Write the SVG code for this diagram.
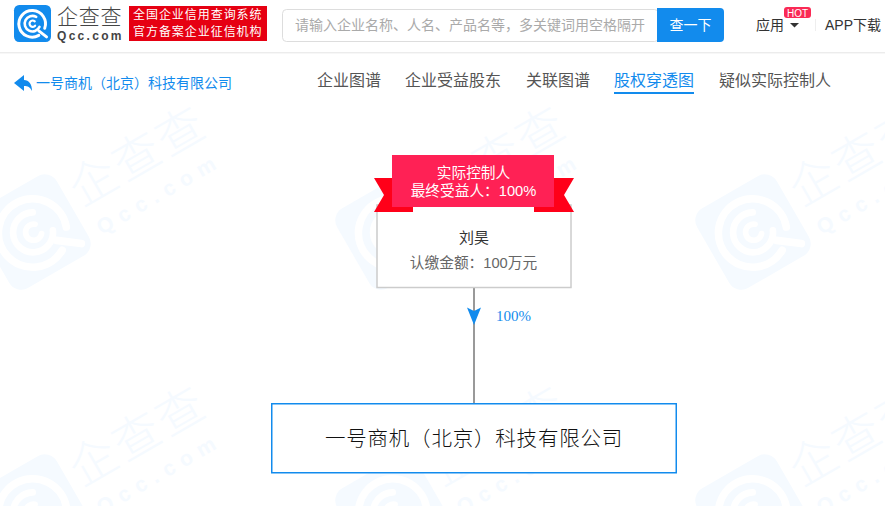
<svg xmlns="http://www.w3.org/2000/svg" width="885" height="506" viewBox="0 0 885 506">
<style>
text{font-family:"Liberation Sans","Noto Sans CJK SC",sans-serif}
.c{text-anchor:middle}
.tab{font-size:16px;fill:#555}
.top{font-size:14px;fill:#333}
.ring{fill:none;stroke:#fff;stroke-linecap:round}
.wm{fill:#f5faff}
.wmt{font-family:"Noto Sans CJK SC","Liberation Sans",sans-serif;font-weight:300;fill:#f5faff}
</style>
<defs>
<g id="mark">
<path class="ring" stroke-width="8" d="M33 13A36 36 0 1 0 17 32"/>
<path class="ring" stroke-width="8" d="M17 20L38 36"/>
<path class="ring" stroke-width="7" d="M10 -18A21 21 0 1 0 19 9"/>
<path class="ring" stroke-width="6" d="M6 -6A8.500 8.500 0 1 0 7 6"/>
</g>
<g id="wm" transform="rotate(-30)">
<rect class="wm" x="-46" y="-46" width="92" height="92" rx="14"/>
<use href="#mark" transform="scale(.95)"/>
<text class="wmt" x="54" y="3" font-size="47" letter-spacing="3">企查查</text>
<text class="wmt" x="58" y="37" font-size="21" letter-spacing="7.500" style="font-family:'Liberation Sans',sans-serif;font-weight:700">Qcc.com</text>
</g>
</defs>
<rect width="885" height="506" fill="#fff"/>
<g id="watermarks">
<use href="#wm" transform="translate(33 232)"/>
<use href="#wm" transform="translate(393 232)"/>
<use href="#wm" transform="translate(753 232)"/>
<use href="#wm" transform="translate(33 512)"/>
<use href="#wm" transform="translate(393 512)"/>
<use href="#wm" transform="translate(753 512)"/>
</g>
<g id="header">
<rect x="0" y="0" width="885" height="52" fill="#fff"/>
<rect x="0" y="52" width="885" height="1" fill="#ececec"/>
<rect x="0" y="53" width="885" height="1" fill="#f7f7f7"/>
<g transform="translate(32.500 23.500) scale(.37)">
<rect x="-50" y="-50" width="100" height="100" rx="14" fill="#128bed"/>
<use href="#mark"/>
</g>
<text x="57" y="24" font-size="21" letter-spacing=".7" fill="#444" style="font-family:'Noto Sans CJK SC',sans-serif;font-weight:300">企查查</text>
<text x="57" y="40" font-size="12" font-weight="700" letter-spacing="2.300" fill="#444">Qcc.com</text>
<rect x="129" y="6" width="138" height="35" fill="#e60012"/>
<text x="133" y="19" font-size="12" letter-spacing=".95" fill="#fff">全国企业信用查询系统</text>
<text x="133" y="36" font-size="12" letter-spacing=".95" fill="#fff">官方备案企业征信机构</text>
<rect x="282.500" y="9.500" width="376" height="32" rx="4" fill="#fff" stroke="#ddd"/>
<text x="295" y="30" font-size="14" fill="#aaa">请输入企业名称、人名、产品名等，多关键词用空格隔开</text>
<path d="M657 8H720a4 4 0 0 1 4 4V38a4 4 0 0 1-4 4H657Z" fill="#128bed"/>
<text x="690.500" y="30" font-size="14" class="c" fill="#fff">查一下</text>
<text x="756" y="30" class="top">应用</text>
<path d="M790 23H799L794.500 27.500Z" fill="#333"/>
<path d="M787 7H808a3 3 0 0 1 3 3V15a3 3 0 0 1-3 3H787a3 3 0 0 1-3-3V10a3 3 0 0 1 3-3Z" fill="#fa2a55"/>
<text x="797.500" y="16.500" font-size="10" class="c" fill="#fff">HOT</text>
<rect x="815" y="19" width="1" height="12" fill="#eee"/>
<text x="825" y="30" class="top">APP下载</text>
</g>
<g id="subnav">
<path d="M14 83L24 75V80C29 80 32 84 32 91C30 87 28 86 24 86V91Z" fill="#128bed"/>
<text x="36" y="87.500" font-size="14" fill="#128bed">一号商机（北京）科技有限公司</text>
<text x="317" y="86" class="tab">企业图谱</text>
<text x="405" y="86" class="tab">企业受益股东</text>
<text x="526" y="86" class="tab">关联图谱</text>
<text x="614" y="86" class="tab" style="fill:#128bed">股权穿透图</text>
<rect x="614" y="92" width="80" height="2" fill="#128bed"/>
<text x="719" y="86" class="tab">疑似实际控制人</text>
</g>
<g id="connectors">
<path d="M474 288V403" stroke="#999" stroke-width="2" fill="none"/>
<path d="M467 307.500L474 311L481 307.500L474 325Z" fill="#128bed"/>
<text x="496" y="320.500" font-size="15" fill="#128bed" style="font-family:'Liberation Serif',serif">100%</text>
</g>
<g id="node-person">
<rect x="377" y="205" width="194" height="82.500" fill="#fff" stroke="#ccc" stroke-width="1.500"/>
<path d="M374 178H400V212H374L384 195Z" fill="#ff0019"/>
<path d="M374 212H413V207H390Z" fill="#ff0019"/>
<path d="M574 178H548V212H574L564 195Z" fill="#ff0019"/>
<path d="M574 212H534V207H558Z" fill="#ff0019"/>
<rect x="392" y="155" width="162" height="52" fill="#ff2155"/>
<text x="473.500" y="178" font-size="14.700" class="c" fill="#fff">实际控制人</text>
<text x="473.500" y="196" font-size="14.700" class="c" fill="#fff">最终受益人：100%</text>
<text x="474" y="243" font-size="15" class="c" fill="#333">刘昊</text>
<text x="473.500" y="268" font-size="14.700" class="c" fill="#666">认缴金额：100万元</text>
</g>
<g id="node-company">
<rect x="271.750" y="403.750" width="404.500" height="69" fill="#fff" stroke="#128bed" stroke-width="1.500"/>
<text x="474" y="446" font-size="20.500" class="c" letter-spacing=".8" fill="#111" style="font-family:'Noto Sans CJK SC',sans-serif;font-weight:300">一号商机（北京）科技有限公司</text>
</g>
</svg>
